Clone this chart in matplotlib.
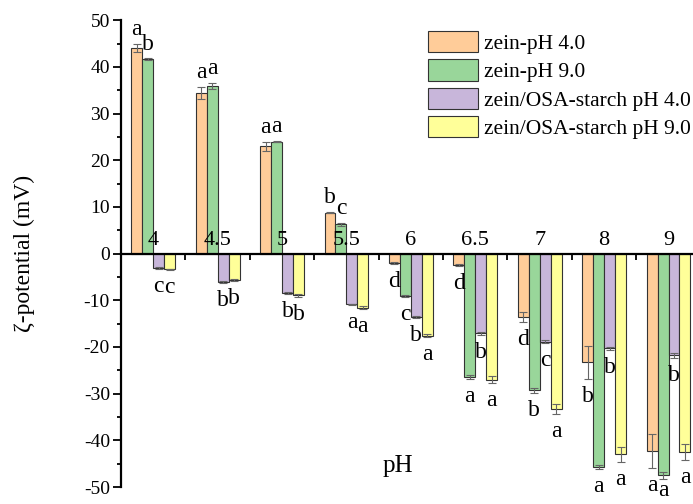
import numpy as np
import matplotlib
matplotlib.use("Agg")
import matplotlib.pyplot as plt

plt.rcParams['font.family'] = ['Liberation Serif', 'DejaVu Serif']
plt.rcParams['axes.unicode_minus'] = False

ph = ['4', '4.5', '5', '5.5', '6', '6.5', '7', '8', '9']
series = ['zein-pH 4.0', 'zein-pH 9.0', 'zein/OSA-starch pH 4.0', 'zein/OSA-starch pH 9.0']

zein_ph4 = [44.1, 34.4, 23.0, 8.8, -2.1, -2.5, -13.6, -23.3, -42.3]
zein_ph9 = [41.6, 35.9, 24.0, 6.3, -9.1, -26.4, -29.3, -45.7, -47.5]
osa_ph4 = [-3.0, -6.1, -8.4, -10.9, -13.6, -17.1, -18.9, -20.3, -21.8]
osa_ph9 = [-3.4, -5.7, -8.9, -11.6, -17.6, -27.0, -33.3, -43.0, -42.5]

err_zein_ph4 = [0.9, 1.3, 1.0, 0.2, 0.2, 0.2, 1.0, 3.5, 3.7]
err_zein_ph9 = [0.2, 0.6, 0.2, 0.3, 0.2, 0.5, 0.5, 0.5, 0.7]
err_osa_ph4 = [0.2, 0.2, 0.2, 0.2, 0.2, 0.3, 0.3, 0.3, 0.6]
err_osa_ph9 = [0.2, 0.2, 0.3, 0.3, 0.3, 0.7, 1.0, 1.6, 1.8]

let_zein_ph4 = ['a', 'a', 'a', 'b', 'd', 'd', 'd', 'b', 'a']
let_zein_ph9 = ['b', 'a', 'a', 'c', 'c', 'a', 'b', 'a', 'a']
let_osa_ph4 = ['c', 'b', 'b', 'a', 'b', 'b', 'c', 'b', 'b']
let_osa_ph9 = ['c', 'b', 'b', 'a', 'a', 'a', 'a', 'a', 'a']

values = [zein_ph4, zein_ph9, osa_ph4, osa_ph9]
errors = [err_zein_ph4, err_zein_ph9, err_osa_ph4, err_osa_ph9]
letters = [let_zein_ph4, let_zein_ph9, let_osa_ph4, let_osa_ph9]
colors = ['#FFCC99', '#99D69A', '#C8B6DA', '#FFFF99']

fig = plt.figure(figsize=(6.93, 5.04), dpi=100)
ax = fig.add_axes([0.1746, 0.0337, 0.8254, 0.9263])
ax.set_axisbelow(False)

x = np.arange(1, len(ph) + 1)
w = 0.17
for i in range(4):
    xs = x + (i - 1.5) * w
    ax.bar(xs, values[i], w, color=colors[i], edgecolor='#333333',
           linewidth=0.8, label=series[i], zorder=2)
    ax.errorbar(xs, values[i], yerr=errors[i], fmt='none', ecolor='#666666',
                elinewidth=0.8, capsize=2.8, capthick=0.8, zorder=3)
    for xi, v, e, t in zip(xs, values[i], errors[i], letters[i]):
        if v > 0:
            ax.text(xi, v + e + 0.8, t, ha='center', va='bottom', fontsize=17)
        else:
            # keep the lowest letters inside the picture
            ax.text(xi, max(v - e - 1.5, -48.6), t, ha='center', va='top', fontsize=17)

ax.set_xlim(0.5, 9.38)
ax.set_ylim(-50, 50)
ax.spines['top'].set_visible(False)
ax.spines['right'].set_visible(False)
ax.spines['bottom'].set_position(('data', 0))
ax.spines['bottom'].set_linewidth(1.6)
ax.spines['left'].set_linewidth(1.6)

ax.set_xticks(x)
ax.set_xticklabels(ph, fontsize=16)
ax.set_xticks(np.arange(1.5, 9.5, 1), minor=True)
ax.tick_params(axis='x', which='major', length=0, pad=-16)
ax.tick_params(axis='x', which='minor', length=4, width=1.3, direction='out')

ax.set_yticks(np.arange(-50, 51, 10))
ax.set_yticks(np.arange(-45, 50, 10), minor=True)
ax.tick_params(axis='y', which='major', length=6, width=1.3, labelsize=14, pad=2)
ax.tick_params(axis='y', which='minor', length=3, width=1.3)

ax.set_ylabel('ζ-potential (mV)', fontsize=17)
ax.yaxis.set_label_coords(-0.15, 0.5)
ax.text(0.484, 0.045, 'pH', transform=ax.transAxes, ha='center', va='center', fontsize=18)

ax.legend(loc='upper left', bbox_to_anchor=(428 / 693, 1 - 31 / 504),
          bbox_transform=fig.transFigure, frameon=False, fontsize=15.5,
          handlelength=2.3, handleheight=1.15, handletextpad=0.3,
          labelspacing=0.25, borderpad=0, borderaxespad=0)

fig.savefig('out.png', dpi=100)
